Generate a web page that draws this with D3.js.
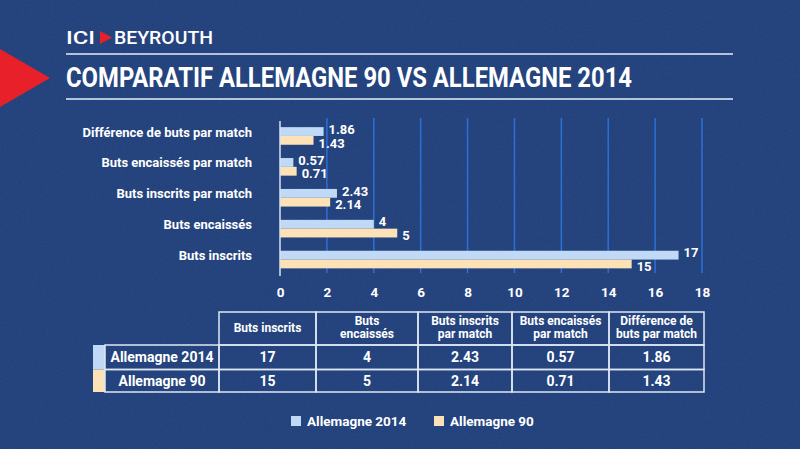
<!DOCTYPE html>
<html>
<head>
<meta charset="utf-8">
<script src="https://cdn.jsdelivr.net/npm/d3@7/dist/d3.min.js"></script>
<style>
  html, body { margin: 0; padding: 0; background: #1e3e7a; }
  svg { display: block; }
  text { font-family: Roboto, "Noto Sans", sans-serif; fill: #ffffff; }
</style>
</head>
<body>
<div id="chart"></div>
<script>
// chart data
const categories = ['Buts inscrits', 'Buts encaissés', 'Buts inscrits par match', 'Buts encaissés par match', 'Différence de buts par match'];
const series = ['Allemagne 2014', 'Allemagne 90'];
const values2014 = [17, 4, 2.43, 0.57, 1.86];
const values90 = [15, 5, 2.14, 0.71, 1.43];
const valueLabels2014 = ['17', '4', '2.43', '0.57', '1.86'];
const valueLabels90 = ['15', '5', '2.14', '0.71', '1.43'];
const xTicks = [0, 2, 4, 6, 8, 10, 12, 14, 16, 18];
const tableHeaders = [['Buts inscrits'], ['Buts', 'encaissés'], ['Buts inscrits', 'par match'], ['Buts encaissés', 'par match'], ['Différence de', 'buts par match']];
const seriesColors = ['#c0d9f7', '#fce2b6'];

const width = 800, height = 449;

const svg = d3.select('#chart').append('svg')
    .attr('width', width)
    .attr('height', height);

// background with a faint grain
const defs = svg.append('defs');
const grain = defs.append('filter').attr('id', 'grain');
grain.append('feTurbulence').attr('type', 'fractalNoise').attr('baseFrequency', 0.9).attr('numOctaves', 2);
grain.append('feColorMatrix').attr('type', 'matrix')
    .attr('values', '0 0 0 0 1  0 0 0 0 1  0 0 0 0 1  0 0 0 0.06 0');
svg.append('rect').attr('width', width).attr('height', height).attr('fill', '#1e3e7a');
svg.append('rect').attr('width', width).attr('height', height).attr('filter', 'url(#grain)');

// header
svg.append('polygon')
    .attr('points', '0,49 50,78 0,107')
    .attr('fill', '#e8202a');

svg.append('text')
    .attr('x', 66).attr('y', 44)
    .attr('font-size', 19)
    .attr('font-weight', 500)
    .attr('textLength', 29)
    .attr('lengthAdjust', 'spacingAndGlyphs')
    .text('ICI');
svg.append('polygon')
    .attr('points', '100,31 112,37.5 100,44')
    .attr('fill', '#e8202a');
svg.append('text')
    .attr('x', 114).attr('y', 44)
    .attr('font-size', 19)
    .attr('font-weight', 500)
    .attr('textLength', 99)
    .attr('lengthAdjust', 'spacingAndGlyphs')
    .text('BEYROUTH');

svg.append('line').attr('x1', 66).attr('x2', 733).attr('y1', 54).attr('y2', 54)
    .attr('stroke', '#e6eef8').attr('stroke-width', 1.5);
svg.append('line').attr('x1', 66).attr('x2', 733).attr('y1', 99).attr('y2', 99)
    .attr('stroke', '#e6eef8').attr('stroke-width', 1.5);

svg.append('text')
    .attr('x', 66).attr('y', 87)
    .attr('font-size', 27)
    .attr('font-weight', 700)
    .attr('textLength', 566)
    .attr('lengthAdjust', 'spacingAndGlyphs')
    .text('COMPARATIF ALLEMAGNE 90 VS ALLEMAGNE 2014');

// bar chart
const x = d3.scaleLinear().domain([0, 18]).range([280, 702]);
const y = d3.scaleBand()
    .domain(categories.slice().reverse())
    .range([120.5, 275])
    .paddingInner(0.43)
    .paddingOuter(0.215);
const ySub = d3.scaleBand().domain(series).range([0, y.bandwidth()]);

const chart = svg.append('g');

chart.append('g')
    .selectAll('line')
    .data(xTicks.filter((t) => t > 0))
    .join('line')
    .attr('x1', (d) => x(d)).attr('x2', (d) => x(d))
    .attr('y1', 118).attr('y2', 273)
    .attr('stroke', '#2c6fd8')
    .attr('stroke-width', 1.5);

const xAxis = chart.append('g')
    .attr('transform', 'translate(0,292)')
    .call(d3.axisBottom(x).tickValues(xTicks).tickSize(0).tickPadding(0));
xAxis.select('.domain').remove();
xAxis.selectAll('text')
    .attr('dy', '0.35em')
    .attr('font-family', 'Roboto, sans-serif')
    .attr('font-size', 13.5)
    .attr('font-weight', 700)
    .attr('fill', '#ffffff');

const rows = categories.map((c, i) => ({ cat: c, v: [values2014[i], values90[i]], l: [valueLabels2014[i], valueLabels90[i]] }));

const groups = chart.append('g')
    .selectAll('g')
    .data(rows)
    .join('g')
    .attr('transform', (d) => `translate(0,${y(d.cat)})`);

groups.selectAll('rect')
    .data((d) => series.map((s, j) => ({ s, v: d.v[j], j })))
    .join('rect')
    .attr('x', x(0))
    .attr('y', (d) => ySub(d.s))
    .attr('width', (d) => x(d.v) - x(0))
    .attr('height', ySub.bandwidth())
    .attr('fill', (d) => seriesColors[d.j]);

groups.selectAll('text.val')
    .data((d) => series.map((s, j) => ({ s, v: d.v[j], l: d.l[j], j })))
    .join('text')
    .attr('class', 'val')
    .attr('x', (d) => x(d.v) + 5)
    .attr('y', (d) => ySub(d.s) + ySub.bandwidth() / 2 + (d.j === 0 ? -2.5 : 2.5))
    .attr('dy', '0.36em')
    .attr('font-size', 13)
    .attr('font-weight', 700)
    .text((d) => d.l);

groups.append('text')
    .attr('x', 252)
    .attr('y', y.bandwidth() / 2 - 4)
    .attr('dy', '0.35em')
    .attr('text-anchor', 'end')
    .attr('font-size', 13)
    .attr('font-weight', 700)
    .text((d) => d.cat);

// zero axis line
chart.append('line')
    .attr('x1', x(0)).attr('x2', x(0))
    .attr('y1', 121).attr('y2', 276)
    .attr('stroke', '#d6e2f2')
    .attr('stroke-width', 1.5);

// table
const colX = [105, 219, 316, 418, 512, 609, 704];
const rowY = [312, 345, 369.5, 392];
const tbl = svg.append('g');
const border = '#dde7f4';

// marker strips
series.forEach((s, i) => {
    tbl.append('rect')
        .attr('x', 93).attr('y', rowY[i + 1])
        .attr('width', 12).attr('height', rowY[i + 2] - rowY[i + 1])
        .attr('fill', seriesColors[i]);
});

// header cells
tableHeaders.forEach((lines, j) => {
    const cx = (colX[j + 1] + colX[j + 2]) / 2;
    const cy = (rowY[0] + rowY[1]) / 2;
    tbl.append('rect')
        .attr('x', colX[j + 1]).attr('y', rowY[0])
        .attr('width', colX[j + 2] - colX[j + 1]).attr('height', rowY[1] - rowY[0])
        .attr('fill', 'none').attr('stroke', border).attr('stroke-width', 1.5);
    const t = tbl.append('text')
        .attr('text-anchor', 'middle')
        .attr('font-size', 12)
        .attr('font-weight', 700);
    lines.forEach((ln, k) => {
        t.append('tspan')
            .attr('x', cx)
            .attr('y', cy + (k - (lines.length - 1) / 2) * 13.5 - 1)
            .attr('dy', '0.35em')
            .text(ln);
    });
});

// body cells
const tableValues = [valueLabels2014, valueLabels90];
series.forEach((s, i) => {
    const y0 = rowY[i + 1], y1 = rowY[i + 2];
    const cells = [s].concat(tableValues[i]);
    cells.forEach((txt, j) => {
        tbl.append('rect')
            .attr('x', colX[j]).attr('y', y0)
            .attr('width', colX[j + 1] - colX[j]).attr('height', y1 - y0)
            .attr('fill', 'none').attr('stroke', border).attr('stroke-width', 1.5);
        tbl.append('text')
            .attr('x', (colX[j] + colX[j + 1]) / 2)
            .attr('y', (y0 + y1) / 2)
            .attr('dy', '0.36em')
            .attr('text-anchor', 'middle')
            .attr('font-size', 14)
            .attr('font-weight', 700)
            .text(txt);
    });
});

// legend
const legendX = [291, 434];
const legend = svg.append('g');
series.forEach((s, i) => {
    legend.append('rect')
        .attr('x', legendX[i]).attr('y', 416)
        .attr('width', 10).attr('height', 10)
        .attr('fill', seriesColors[i]);
    legend.append('text')
        .attr('x', legendX[i] + 16).attr('y', 421)
        .attr('dy', '0.36em')
        .attr('font-size', 13.5)
        .attr('font-weight', 700)
        .text(s);
});
</script>
</body>
</html>
